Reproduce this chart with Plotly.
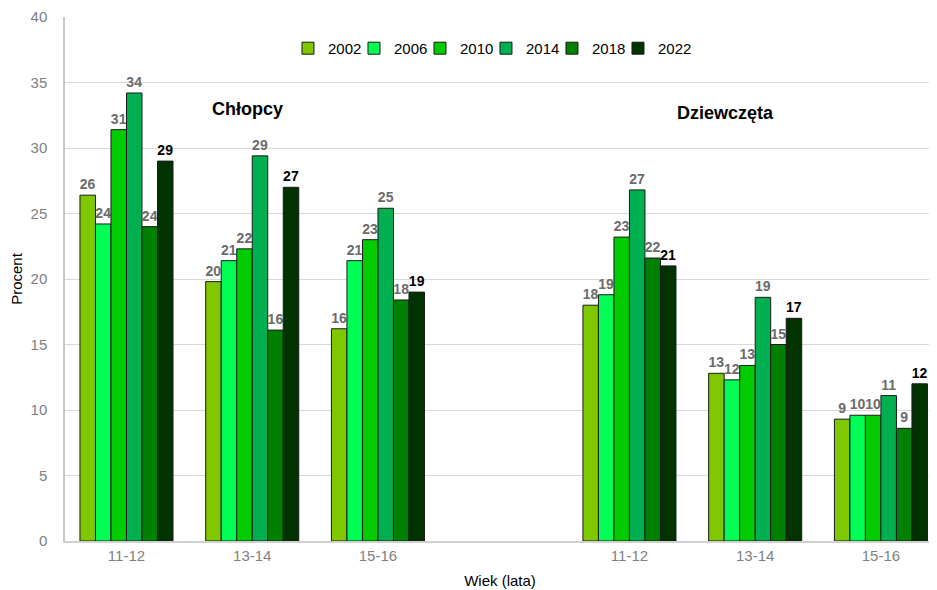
import plotly.graph_objects as go

years = ["2002", "2006", "2010", "2014", "2018", "2022"]
age_labels = ["11-12", "13-14", "15-16", "", "11-12", "13-14", "15-16"]
slots = [0, 1, 2, 4, 5, 6]

v2002 = [26.4, 19.8, 16.2, 18.0, 12.8, 9.3]
v2006 = [24.2, 21.4, 21.4, 18.8, 12.3, 9.6]
v2010 = [31.4, 22.3, 23.0, 23.2, 13.4, 9.6]
v2014 = [34.2, 29.4, 25.4, 26.8, 18.6, 11.1]
v2018 = [24.0, 16.1, 18.4, 21.6, 15.0, 8.6]
v2022 = [29.0, 27.0, 19.0, 21.0, 17.0, 12.0]

series = [v2002, v2006, v2010, v2014, v2018, v2022]
colors = ["#7FC800", "#00FF55", "#00CC00", "#00B050", "#008000", "#003300"]

tick_font = dict(family="Liberation Sans Narrow, Liberation Sans", size=15, color="#7f7f7f")
title_font = dict(family="Liberation Sans Narrow, Liberation Sans", size=15, color="#000000")
leg_font = dict(family="Liberation Sans, Arial", size=15, color="#000000")

lx = 0.2563
step = 66 / 870

fig = go.Figure()
legends = {}
for i, (name, vals, col) in enumerate(zip(years, series, colors)):
    lname = "legend" if i == 0 else f"legend{i + 1}"
    legends[lname] = dict(orientation="h", x=lx + i * step, y=0.94,
                          xanchor="left", yanchor="middle", font=leg_font,
                          itemwidth=30, bgcolor="rgba(0,0,0,0)")
    fig.add_trace(go.Bar(
        x=slots, y=vals, name=name, legend=lname, showlegend=True,
        marker=dict(color=col, line=dict(color="#1a1a1a", width=1)),
        texttemplate="%{y:.0f}",
        textposition="outside",
        constraintext="none",
        cliponaxis=False,
        textfont=dict(family="Liberation Sans, Arial", size=14,
                      color="#000000" if name == "2022" else "#6b6b6b",
                      weight="bold"),
        hoverinfo="skip",
    ))

# page body has an 8px margin, so the figure is sized/offset to compensate
fig.update_layout(
    width=929, height=582,
    showlegend=True,
    margin=dict(l=57, r=2, t=9, b=49, autoexpand=False),
    barmode="group", bargap=0.26, bargroupgap=0,
    plot_bgcolor="white", paper_bgcolor="white",
    font=dict(family="Liberation Sans, Arial", size=14, color="#595959"),
    xaxis=dict(range=[-0.489, 6.43], tickvals=list(range(7)), ticktext=age_labels,
               showgrid=False, showline=True, linecolor="#d0d0d0", linewidth=1.5,
               ticks="", tickfont=tick_font, automargin=False,
               title=dict(text="Wiek (lata)", font=title_font, standoff=13),
               zeroline=False),
    yaxis=dict(range=[0, 40], dtick=5, showgrid=True, gridcolor="#d9d9d9", gridwidth=1,
               showline=True, linecolor="#c8c8c8", linewidth=1.5, ticks="",
               tickfont=tick_font, automargin=False, ticklabelstandoff=13,
               title=dict(text="Procent", font=title_font, standoff=8),
               zeroline=False),
    annotations=[
        dict(text="<b>Chłopcy</b>", x=0.96, y=33.0, xref="x", yref="y", showarrow=False,
             font=dict(family="Liberation Sans, Arial", size=18, color="#000000")),
        dict(text="<b>Dziewczęta</b>", x=4.76, y=32.65, xref="x", yref="y", showarrow=False,
             font=dict(family="Liberation Sans, Arial", size=18, color="#000000")),
    ],
)
fig.update_layout(**legends)

fig.write_html("out.html")
